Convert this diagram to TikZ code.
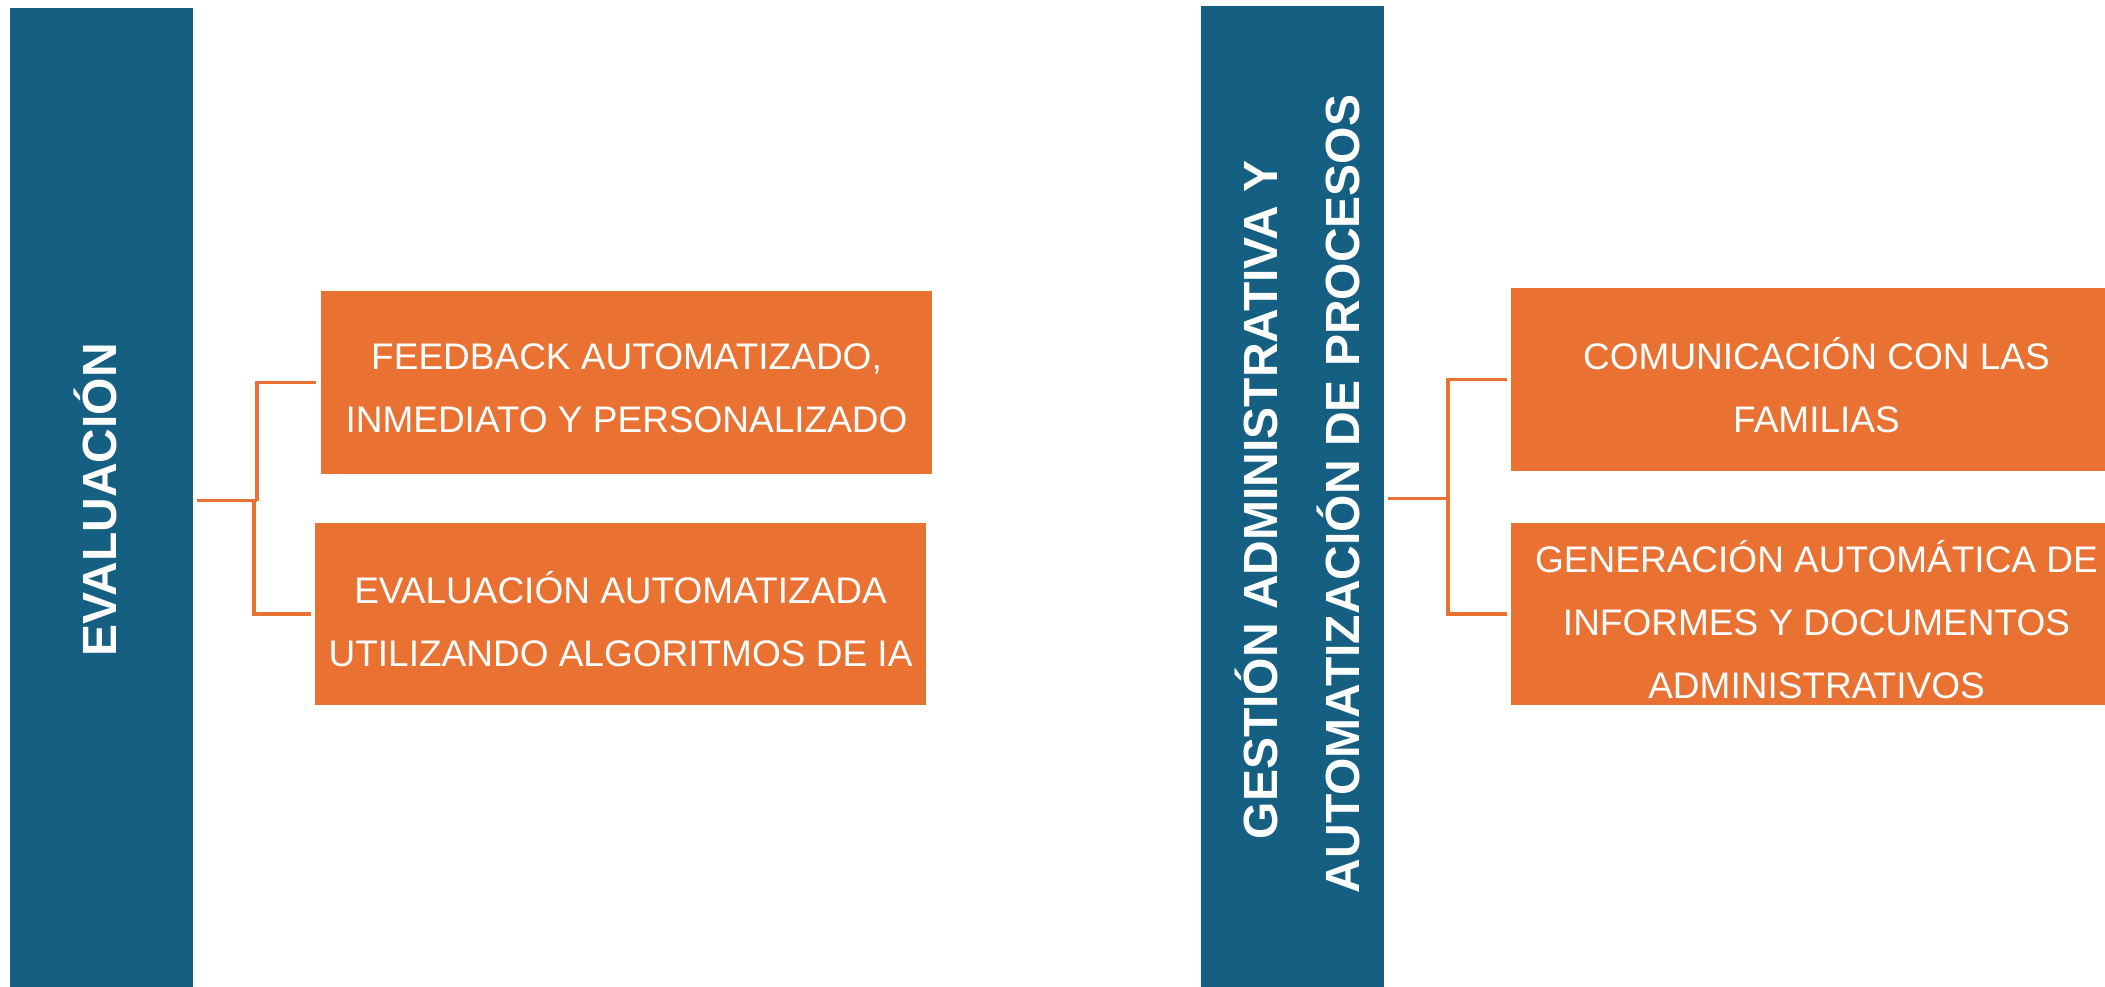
\documentclass[tikz,border=0pt]{standalone}
\usepackage{fontspec}
\setmainfont{Liberation Sans}
\definecolor{barblue}{HTML}{156082}
\definecolor{boxorange}{HTML}{E97132}
\tikzset{
  bar/.style={fill=barblue, draw=none, inner sep=0pt, minimum width=183.5pt, minimum height=985pt},
  obox/.style={fill=boxorange, draw=none, inner sep=0pt, minimum width=611pt, minimum height=183pt},
  otext/.style={text=white, align=center, inner sep=0pt, font=\fontsize{37}{63}\selectfont},
  btext/.style={text=white, inner sep=0pt, rotate=90, anchor=base, font=\bfseries\fontsize{48}{56}\selectfont},
  conn/.style={draw=boxorange, line width=3.5pt},
}
\begin{document}
\begin{tikzpicture}[x=1pt,y=-1pt]
\path[use as bounding box] (0,0) rectangle (2105,986);
\clip (0,0) rectangle (2105,986);
% bars
\node[bar] (bar1) at (101.25,500.5) {};
\node[bar] (bar2) at (1292.25,498.5) {};
\node[btext] (t1) at (116,500) {EVALUACIÓN};
\node[btext] (t2a) at (1277,500) {GESTIÓN ADMINISTRATIVA Y};
\node[btext] (t2b) at (1359,494) {AUTOMATIZACIÓN DE PROCESOS};
% boxes
\node[obox] (b1) at (626.5,382.5) {};
\node[obox, minimum height=182pt] (b2) at (620.5,614) {};
\node[obox] (b3) at (1816.5,379.5) {};
\node[obox, minimum height=182pt] (b4) at (1816.5,614) {};
\node[otext] (l1) at ([yshift=-5.5pt]b1.center) {FEEDBACK AUTOMATIZADO,\\INMEDIATO Y PERSONALIZADO};
\node[otext] (l2) at ([yshift=-5.5pt]b2.center) {EVALUACIÓN AUTOMATIZADA\\UTILIZANDO ALGORITMOS DE IA};
\node[otext] (l3) at ([yshift=-5.5pt]b3.center) {COMUNICACIÓN CON LAS\\FAMILIAS};
\node[otext] (l4) at ([yshift=-5.5pt]b4.center) {GENERACIÓN AUTOMÁTICA DE\\INFORMES Y DOCUMENTOS\\ADMINISTRATIVOS};
% connectors
\draw[conn] ([xshift=4pt]bar1.east) -- ++(60,0) coordinate (j1);
\draw[conn] (j1) |- ([xshift=-5pt]b1.west);
\draw[conn] ([xshift=-3pt]j1) |- ([xshift=-4pt]b2.west);
\draw[conn] ([xshift=4pt]bar2.east) -- ++(60,0) coordinate (j2);
\draw[conn] (j2) |- ([xshift=-4pt]b3.west);
\draw[conn] (j2) |- ([xshift=-4pt]b4.west);
\end{tikzpicture}
\end{document}
